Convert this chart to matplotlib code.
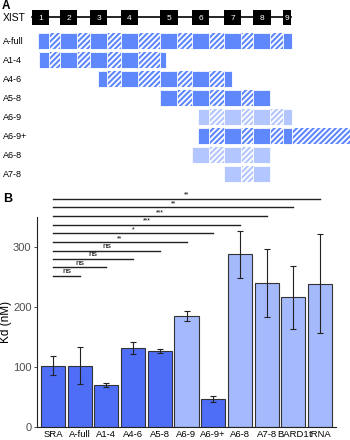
import matplotlib
matplotlib.use('Agg')
import matplotlib.pyplot as plt
from matplotlib.patches import Rectangle
import numpy as np

# ---- panel A data (positions along XIST, arbitrary units) ----
exon_names = ['1', '2', '3', '4', '5', '6', '7', '8', '9']
exon_starts = [32, 60, 90, 121, 160, 192, 224, 253, 283]
exon_ends = [49, 77, 107, 138, 178, 209, 241, 271, 291]
repeat_starts = [38, 60, 90, 121, 160, 192, 224, 253, 283]
repeat_ends = [49, 77, 107, 138, 177, 209, 241, 270, 292]

constructs = ['A-full', 'A1-4', 'A4-6', 'A5-8', 'A6-9', 'A6-9+', 'A6-8', 'A7-8']
construct_start = [38, 39, 98, 160, 198, 198, 192, 224]
construct_end = [292, 166, 232, 271, 292, 350, 271, 271]
construct_light = [False, False, False, False, True, False, True, True]

# ---- panel B data ----
samples = ['SRA', 'A-full', 'A1-4', 'A4-6', 'A5-8', 'A6-9', 'A6-9+',
           'A6-8', 'A7-8', 'BARD1', 'tRNA']
kd = [102, 102, 70, 131, 127, 185, 47, 288, 240, 216, 239]
kd_err = [16, 31, 4, 10, 3, 9, 5, 39, 56, 53, 83]
bar_light = [False, False, False, False, False, True, False, True, True, True, True]
sig_labels = ['ns', 'ns', 'ns', 'ns', '**', '*', '***', '***', '**', '**']
sig_y = [252, 266, 280, 294, 308, 323, 337, 351, 366, 380]

A_DARK = '#6088fd'
A_LIGHT = '#b3c6ff'
B_DARK = '#4f6ef8'
B_LIGHT = '#a5b9fd'

plt.rcParams['font.family'] = ['Liberation Sans', 'DejaVu Sans']
plt.rcParams['hatch.linewidth'] = 1.3

fig = plt.figure(figsize=(3.5, 4.4), dpi=100)

# ---------------- panel A ----------------
axA = fig.add_axes([0, 0.55, 1, 0.45])
axA.set_xlim(0, 350)
axA.set_ylim(198, 0)
axA.axis('off')

fig.text(0.006, 0.999, 'A', fontsize=8.5, fontweight='bold', va='top')
axA.text(3, 18, 'XIST', fontsize=7.5, va='center')
axA.plot([exon_starts[0], exon_ends[-1]], [17.5, 17.5], color='black', lw=1.2, zorder=1)
for name, s, e in zip(exon_names, exon_starts, exon_ends):
    axA.add_patch(Rectangle((s, 10), e - s, 15, facecolor='black', zorder=2))
    axA.text((s + e) / 2, 18, name, color='white', fontsize=6,
             ha='center', va='center', zorder=3)

row_y0 = 33.5
row_step = 19
row_h = 16
for i, name in enumerate(constructs):
    y = row_y0 + i * row_step
    col = A_LIGHT if construct_light[i] else A_DARK
    s0, e0 = construct_start[i], construct_end[i]
    axA.text(3, y + row_h / 2, name, fontsize=6.5, va='center')
    # spacer (hatched) background
    axA.add_patch(Rectangle((s0, y), e0 - s0, row_h, facecolor=col,
                            edgecolor='white', hatch='//////', lw=0))
    # repeats (solid)
    for rs, re_ in zip(repeat_starts, repeat_ends):
        a, b = max(rs, s0), min(re_, e0)
        if b > a:
            axA.add_patch(Rectangle((a, y), b - a, row_h, facecolor=col,
                                    edgecolor='white', lw=0.6))

# ---------------- panel B ----------------
axB = fig.add_axes([37 / 350, 1 - 427 / 440, 299 / 350, 210 / 440])
x = np.arange(len(samples)) + 1
colors = [B_LIGHT if l else B_DARK for l in bar_light]
axB.bar(x, kd, width=0.9, color=colors, edgecolor='#333333', linewidth=0.8, zorder=2)
axB.errorbar(x, kd, yerr=kd_err, fmt='none', ecolor='#222222', elinewidth=0.8,
             capsize=2.5, capthick=0.8, zorder=3)

axB.set_xlim(0.4, len(samples) + 0.6)
axB.set_ylim(0, 350)
axB.set_yticks([0, 100, 200, 300])
axB.set_xticks(x)
axB.set_xticklabels(samples, fontsize=6.8)
axB.tick_params(axis='y', labelsize=8, length=2.5, width=0.6,
                colors='#333333', labelcolor='#4d4d4d', pad=1.5)
axB.tick_params(axis='x', length=0, pad=2)
for side in ['top', 'right']:
    axB.spines[side].set_visible(False)
for side in ['left', 'bottom']:
    axB.spines[side].set_linewidth(0.8)
    axB.spines[side].set_color('#222222')
axB.set_ylabel('Kd (nM)', fontsize=8.5, labelpad=1)

# significance brackets vs SRA
for j, (lab, yy) in enumerate(zip(sig_labels, sig_y)):
    x2 = x[j + 1]
    axB.plot([x[0], x2], [yy, yy], color='#222222', lw=1.0, clip_on=False, zorder=4)
    if lab == 'ns':
        axB.text((x[0] + x2) / 2, yy + 1, lab, fontsize=6, ha='center',
                 va='bottom', clip_on=False)
    else:
        axB.text((x[0] + x2) / 2, yy + 0.5, lab, fontsize=5, ha='center',
                 va='bottom', clip_on=False)

fig.text(0.008, 1 - 193 / 440, 'B', fontsize=9, fontweight='bold', va='top')

fig.savefig('out.png', dpi=100)
